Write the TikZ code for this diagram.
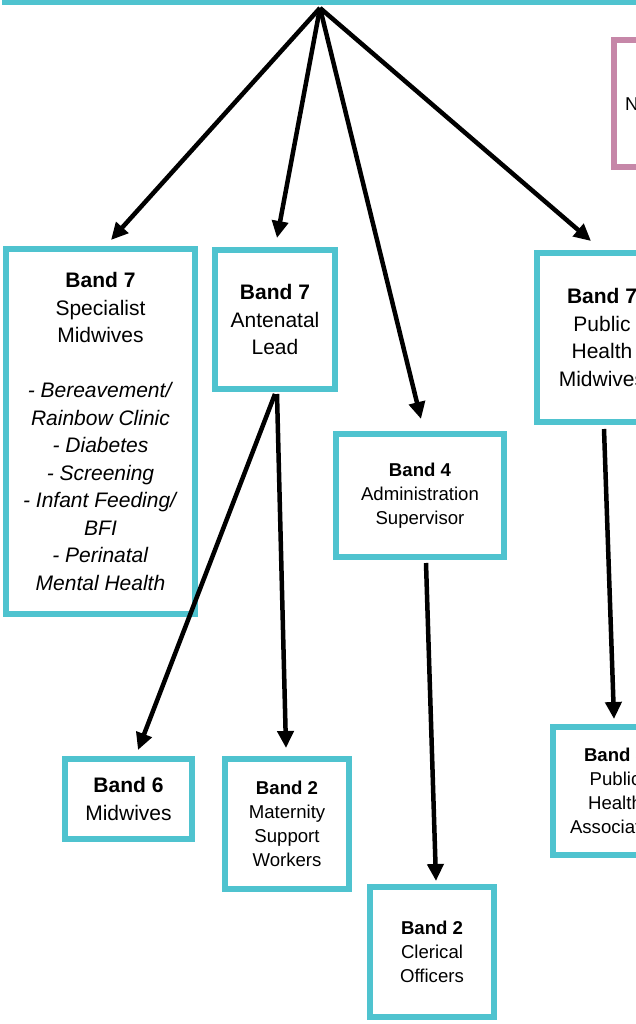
\documentclass[tikz,border=0pt]{standalone}
\usepackage{fontspec}
\setmainfont{Liberation Sans}
\usetikzlibrary{arrows.meta}
\definecolor{bandcyan}{RGB}{79,195,207}
\definecolor{bandpink}{RGB}{198,135,168}

\begin{document}
\begin{tikzpicture}[x=1pt,y=-1pt,
  band/.style={draw=bandcyan, line width=6pt, fill=white, inner sep=0pt, align=center, text=black},
  bigtxt/.style={font=\fontsize{21}{27.5}\selectfont},
  smalltxt/.style={font=\fontsize{18.6}{24}\selectfont},
  link/.style={line width=4.5pt, -{Triangle[length=17pt,width=16pt]}}]
\useasboundingbox (0,0) rectangle (636,1024);
\clip (0,0) rectangle (636,1024);
\node[band, minimum width=792pt, minimum height=199pt] (head) at (401,-97.5) {};
\node[band, draw=bandpink, minimum width=143pt, minimum height=127pt] (pinkbox) at (685.5,103.5) {};
\node[smalltxt, anchor=west, inner sep=0pt] (pinktxt) at (625,104) {N};
\node[band, bigtxt, minimum width=189pt, minimum height=365pt] (spec) at (100.5,431.5) {\textbf{Band 7}\\Specialist\\Midwives\\[27.5pt]\textit{- Bereavement/}\\\textit{Rainbow Clinic}\\\textit{- Diabetes}\\\textit{- Screening}\\\textit{- Infant Feeding/}\\\textit{BFI}\\\textit{- Perinatal}\\\textit{Mental Health}};
\node[band, bigtxt, minimum width=120pt, minimum height=139pt] (antenatal) at (275,319.5) {\textbf{Band 7}\\Antenatal\\Lead};
\node[band, smalltxt, minimum width=168pt, minimum height=123pt] (admin) at (420,495.5) {\textbf{Band 4}\\Administration\\Supervisor};
\node[band, bigtxt, minimum width=130pt, minimum height=169pt] (phm) at (602,337.5) {\textbf{Band 7}\\Public\\Health\\Midwives};
\node[band, bigtxt, minimum width=127pt, minimum height=80pt] (bsix) at (128.5,799) {\textbf{Band 6}\\Midwives};
\node[band, smalltxt, minimum width=124pt, minimum height=130pt] (msw) at (287,824) {\textbf{Band 2}\\Maternity\\Support\\Workers};
\node[band, smalltxt, minimum width=124pt, minimum height=130pt] (clerical) at (432,952) {\textbf{Band 2}\\Clerical\\Officers};
\node[band, smalltxt, minimum width=124pt, minimum height=128pt] (pha) at (615,791) {\textbf{Band 3}\\Public\\Health\\Associates};
\draw[link] ([xshift=-81pt,yshift=-3pt]head.south) -- ([xshift=10.5pt,yshift=6pt]spec.north);
\draw[link] ([xshift=-81pt,yshift=-3pt]head.south) -- ([xshift=2pt,yshift=9pt]antenatal.north);
\draw[link] ([xshift=-81pt,yshift=-3pt]head.south) -- ([xshift=1pt,yshift=12pt]admin.north);
\draw[link] ([xshift=-81pt,yshift=-3pt]head.south) -- ([xshift=-11pt,yshift=9pt]phm.north);
\draw[link] ([yshift=-2pt]antenatal.south) -- ([xshift=9.5pt,yshift=6pt]bsix.north);
\draw[link] ([xshift=2pt,yshift=-2pt]antenatal.south) -- ([xshift=-1pt,yshift=8pt]msw.north);
\draw[link] ([xshift=6pt,yshift=-3pt]admin.south) -- ([xshift=4pt,yshift=3pt]clerical.north);
\draw[link] ([xshift=2pt,yshift=-4pt]phm.south) -- ([xshift=-1pt,yshift=5pt]pha.north);
\end{tikzpicture}
\end{document}
